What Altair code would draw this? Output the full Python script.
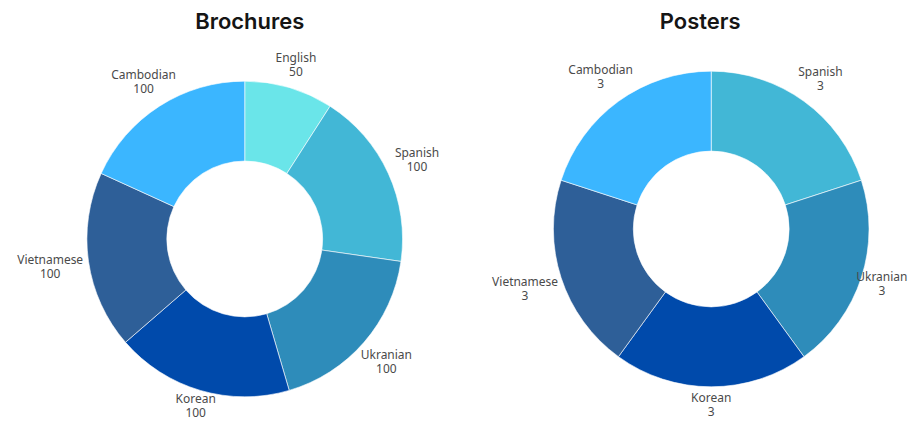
import altair as alt
import pandas as pd

brochure_langs = ["English", "Spanish", "Ukranian", "Korean", "Vietnamese", "Cambodian"]
brochure_counts = [50, 100, 100, 100, 100, 100]
poster_langs = ["Spanish", "Ukranian", "Korean", "Vietnamese", "Cambodian"]
poster_counts = [3, 3, 3, 3, 3]
color_domain = ["English", "Spanish", "Ukranian", "Korean", "Vietnamese", "Cambodian"]
color_range = ["#6AE5E9", "#42B7D6", "#2E8CBA", "#004AAB", "#2E5F98", "#3BB6FF"]

LABEL_FONT = "Noto Sans"
TITLE_FONT = "Inter"


def donut(langs, counts, title, cx, cy, w, h, right_pull=0, bottom_pull=0):
    df = pd.DataFrame({"language": langs, "count": counts, "order": list(range(len(langs)))})
    arcs = alt.Chart(df).mark_arc(outerRadius=158, innerRadius=78, stroke="white", strokeWidth=0.6).encode(
        theta=alt.Theta("count:Q", stack=True),
        order=alt.Order("order:Q"),
        color=alt.Color("language:N", scale=alt.Scale(domain=color_domain, range=color_range), legend=None),
        x=alt.value(cx),
        y=alt.value(cy),
    )
    label_base = (
        alt.Chart(df)
        .transform_joinaggregate(total="sum(count)")
        .transform_window(cum="sum(count)", sort=[alt.SortField("order")], frame=[None, 0])
        .transform_calculate(
            mid="(datum.cum - datum.count / 2) / datum.total * 2 * PI",
        )
        .transform_calculate(
            lr=(
                f"176 + 21 * abs(sin(datum.mid))"
                f" - {right_pull} * pow(max(sin(datum.mid), 0), 4)"
                f" - {bottom_pull} * pow(max(-cos(datum.mid), 0), 4)"
            ),
        )
        .encode(
            theta=alt.Theta("mid:Q", scale=None, stack=None),
            radius=alt.Radius("lr:Q", scale=None, stack=None),
            x=alt.value(cx),
            y=alt.value(cy),
        )
    )
    names = label_base.mark_text(fontSize=12, dy=-7, color="#4a4a4a", font=LABEL_FONT).encode(text="language:N")
    values = label_base.mark_text(fontSize=12, dy=7, color="#4a4a4a", font=LABEL_FONT).encode(text="count:Q")
    return alt.layer(arcs, names, values).resolve_scale(theta="independent").properties(
        width=w,
        height=h,
        title=alt.TitleParams(title, fontSize=22, fontWeight=600, font=TITLE_FONT, color="#151515", offset=4, anchor="middle"),
    )


left = donut(brochure_langs, brochure_counts, "Brochures", 237, 201, 484, 376, right_pull=8, bottom_pull=9)
right = donut(poster_langs, poster_counts, "Posters", 219, 191, 416, 376, right_pull=20, bottom_pull=0)

chart = (
    alt.hconcat(left, right, spacing=0)
    .configure_view(stroke=None)
    .properties(padding={"top": 3, "left": 0, "right": 0, "bottom": 0})
)

chart.save("out.html", embed_options={"renderer": "svg", "actions": False})
